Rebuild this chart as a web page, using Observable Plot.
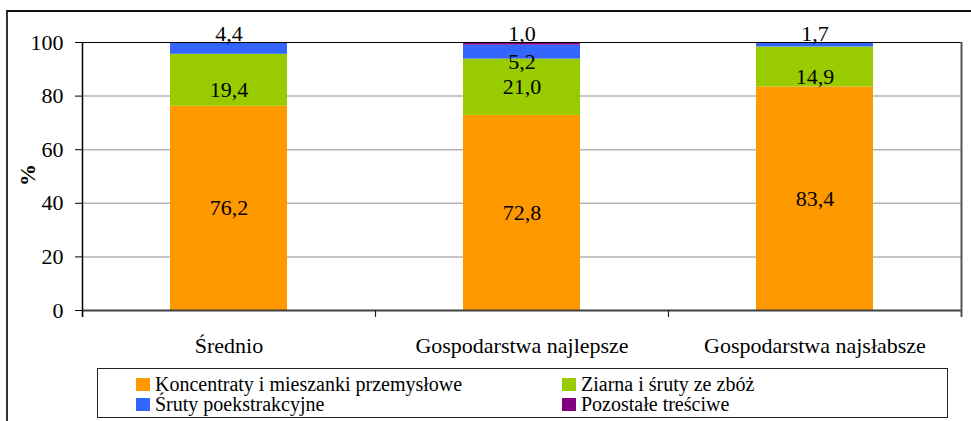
<!DOCTYPE html>
<html><head><meta charset="utf-8">
<script src="https://cdn.jsdelivr.net/npm/d3@7"></script>
<script src="https://cdn.jsdelivr.net/npm/@observablehq/plot@0.6"></script>
<style>
body{margin:0;background:#fff;width:971px;height:421px;overflow:hidden;position:relative;font-family:'Liberation Serif';color:#000;}
#frame{position:absolute;left:6px;top:10px;width:1000px;height:500px;border-left:2px solid #333;border-top:2px solid #111;}
#chart{position:absolute;left:0;top:0;}
#ylabel{position:absolute;left:28px;top:175px;transform:translate(-50%,-50%) rotate(-90deg);font-weight:bold;font-size:22px;line-height:22px;}
#legend{position:absolute;left:97px;top:368px;width:849px;height:48px;border:1.5px solid #222;font-size:20px;background:#fff;}
.item{position:absolute;line-height:20px;height:20px;white-space:nowrap;}
.sw{display:inline-block;width:14px;height:13px;margin-right:5px;vertical-align:baseline;}
</style></head><body>
<div id="frame"></div>
<div id="chart"></div>
<div id="ylabel">%</div>
<div id="legend"></div>
<script>
const categories = ["Średnio", "Gospodarstwa najlepsze", "Gospodarstwa najsłabsze"];
const seriesNames = ["Koncentraty i mieszanki przemysłowe", "Ziarna i śruty ze zbóż", "Śruty poekstrakcyjne", "Pozostałe treściwe"];
const seriesColors = ["#FF9900", "#99CC00", "#3366FF", "#800080"];
const koncentraty = [76.2, 72.8, 83.4];
const ziarna = [19.4, 21.0, 14.9];
const sruty = [4.4, 5.2, 1.7];
const pozostale = [0, 1.0, 0];
const yTicks = [0, 20, 40, 60, 80, 100];

const seriesValues = [koncentraty, ziarna, sruty, pozostale];
const rows = [];
categories.forEach((c, i) => {
  let acc = 0;
  seriesValues.forEach((vals, s) => {
    const v = vals[i];
    rows.push({cat: c, series: seriesNames[s], value: v, y1: acc, y2: acc + v});
    acc += v;
  });
});
const shown = rows.filter(d => d.value > 0);
const small = shown.filter(d => d.value < 5);
const big = shown.filter(d => d.value >= 5);
// a label close to the top of a bar that also carries a label above it is nudged down
const crowded = d => d.y2 > 95 && small.some(s => s.cat === d.cat);
const fmt = v => v.toFixed(1).replace(".", ",");

const W = 971, H = 365, mL = 82, mR = 10, mT = 42, mB = 55;
const step = (W - mL - mR) / categories.length;

const chart = Plot.plot({
  width: W, height: H, marginLeft: mL, marginRight: mR, marginTop: mT, marginBottom: mB,
  style: {fontFamily: "'Liberation Serif'", fontSize: "22px", background: "none", color: "#000", overflow: "visible"},
  x: {domain: categories, paddingInner: 0.6, paddingOuter: 0.3, tickSize: 0, tickPadding: 27, label: null},
  y: {domain: [0, 100], ticks: yTicks, tickSize: 7, tickPadding: 12, label: null},
  color: {domain: seriesNames, range: seriesColors},
  marks: [
    Plot.ruleY(yTicks.filter(t => t > 0 && t < 100), {stroke: "#b4b4b4", strokeWidth: 1.5}),
    Plot.barY(shown, {x: "cat", y1: "y1", y2: "y2", fill: "series"}),
    Plot.ruleY([100], {stroke: "#000", strokeWidth: 1}),
    Plot.ruleY([0], {stroke: "#404040", strokeWidth: 2}),
    Plot.ruleX(categories, {x: d => d, dx: -step / 2, y1: 0, y2: 0, insetBottom: -7, stroke: "#222", strokeWidth: 1.2}),
    Plot.ruleX([categories[0]], {x: d => d, dx: -step / 2, y1: 100, y2: 0, insetBottom: -7, stroke: "#000", strokeWidth: 1.5}),
    Plot.ruleX([categories[categories.length - 1]], {x: d => d, dx: step / 2, y1: 100, y2: 0, insetBottom: -7, stroke: "#555", strokeWidth: 2}),
    Plot.text(big.filter(d => !crowded(d)), {x: "cat", y: d => (d.y1 + d.y2) / 2, text: d => fmt(d.value), fill: "#000", fontSize: 22}),
    Plot.text(big.filter(crowded), {x: "cat", y: d => (d.y1 + d.y2) / 2, dy: 10, text: d => fmt(d.value), fill: "#000", fontSize: 22}),
    Plot.text(small, {x: "cat", y: d => d.y2, dy: -9, text: d => fmt(d.value), fill: "#000", fontSize: 22})
  ]
});
document.getElementById("chart").appendChild(chart);

const legend = document.getElementById("legend");
const positions = [[38, 4.5], [464, 4.5], [38, 25], [464, 25]];
seriesNames.forEach((name, i) => {
  const item = document.createElement("div");
  item.className = "item";
  item.style.left = positions[i][0] + "px";
  item.style.top = positions[i][1] + "px";
  const sw = document.createElement("span");
  sw.className = "sw";
  sw.style.background = seriesColors[i];
  item.appendChild(sw);
  item.appendChild(document.createTextNode(name));
  legend.appendChild(item);
});
</script>
</body></html>
